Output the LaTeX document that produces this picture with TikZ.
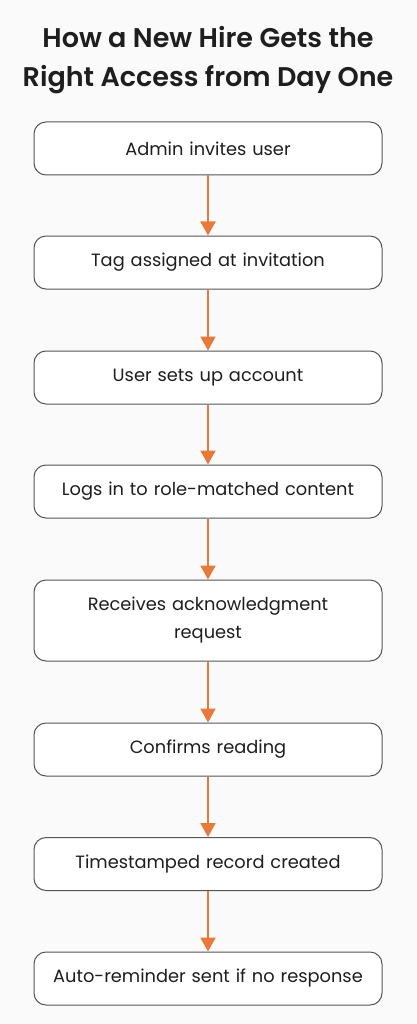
\documentclass[tikz,border=0pt]{standalone}
\usepackage{fontspec}
\setmainfont{Poppins}
\newfontfamily\titlefont{Poppins SemiBold}
\usetikzlibrary{arrows.meta}
\definecolor{bg}{HTML}{FAFAFA}
\definecolor{edge}{HTML}{555555}
\definecolor{arr}{HTML}{E8793A}
\definecolor{ink}{HTML}{1E1E1E}
\tikzset{
  stepbox/.style={draw=edge, line width=1pt, rounded corners=12pt, fill=white,
    minimum width=348pt, minimum height=53pt, text width=340pt, align=center,
    inner sep=0pt, font=\fontsize{17.8}{28}\selectfont, text=ink},
  flow/.style={draw=arr, line width=2pt, -{Triangle[length=14pt,width=15pt]}}
}
\begin{document}
\begin{tikzpicture}[x=1pt,y=1pt]
\fill[bg] (0,0) rectangle (416,-1024);
\useasboundingbox (0,0) rectangle (416,-1024);
\node[font=\fontsize{27}{39}\selectfont\titlefont, text=ink, align=center] (title) at (208,-60) {How a New Hire Gets the\\Right Access from Day One};
\node[stepbox] (s1) at (208,-148.5) {Admin invites user};
\node[stepbox] (s2) at (208,-262.5) {Tag assigned at invitation};
\node[stepbox] (s3) at (208,-377.5) {User sets up account};
\node[stepbox] (s4) at (208,-491.5) {Logs in to role-matched content};
\node[stepbox, minimum height=81pt] (s5) at (208,-620.5) {Receives acknowledgment\\request};
\node[stepbox] (s6) at (208,-749.5) {Confirms reading};
\node[stepbox] (s7) at (208,-864) {Timestamped record created};
\node[stepbox] (s8) at (208,-978.5) {Auto-reminder sent if no response};
\foreach \a/\b in {s1/s2,s2/s3,s3/s4,s4/s5,s5/s6,s6/s7,s7/s8}
  \draw[flow] (\a.south) -- (\b.north);
\end{tikzpicture}
\end{document}
